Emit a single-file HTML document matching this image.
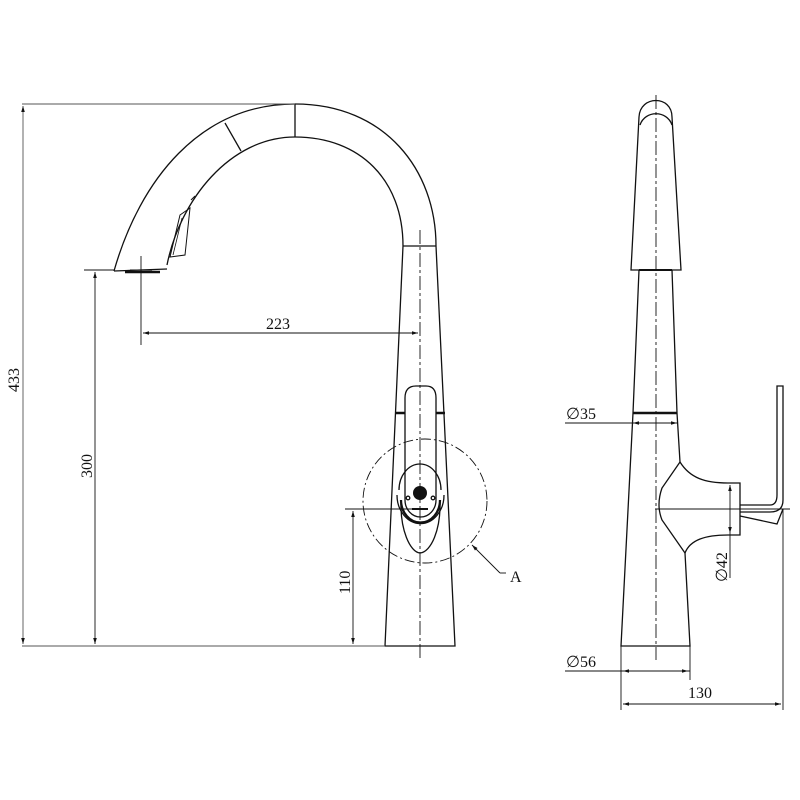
<!DOCTYPE html>
<html><head><style>
html,body{margin:0;padding:0;background:#fff;}
svg{display:block;}
text{font-family:"Liberation Serif",serif;font-size:16px;fill:#111;}
</style></head><body>
<svg width="800" height="800" viewBox="0 0 800 800" xmlns="http://www.w3.org/2000/svg">
<defs>
<marker id="ar" viewBox="0 0 10 10" refX="10" refY="5" markerWidth="9" markerHeight="6" orient="auto-start-reverse" markerUnits="userSpaceOnUse"><path d="M0,2 L10,5 L0,8 z" fill="#111"/></marker>
</defs>
<g fill="none" stroke="#111" stroke-width="1.3">
<path d="M114,271 C140,180 200,104 295,104 C385,104 436,170 436,246"/>
<path d="M167,265 C180,200 230,137 295,137 C360,137 403,180 403,246"/>
<path d="M114,271 L167,269"/>
<path d="M225,123 L241,151"/>
<path d="M295,104 L295,137"/>
<path d="M403,246 L436,246"/>
<path d="M170,257 L180,215 L190,208 L185,255 Z" stroke-width="1"/>
<path d="M173,255 L182,218" stroke-width="0.8"/>
<path d="M191,200 L195,196" stroke-width="1"/>
<path d="M125,272 L160,272" stroke-width="2.5"/>
<path d="M403,246 L385,646 L455,646 L436,246"/>
<path d="M405,413 L405,398 Q405,386 416,386 L426,386 Q436,386 436,398 L436,413"/>
<path d="M405,413 L405,500 A15.5,17 0 0 0 436,500 L436,413"/>
<path d="M396,413 L405,413 M436,413 L445,413" stroke-width="2.5"/>
<path d="M401,500 A19,22 0 0 0 440,500" stroke-width="2.3"/>
<path d="M397,495 A23,28 0 0 0 444,495" />
<path d="M401,500 C400,530 410,552 420,553 C431,552 441,530 440,500"/>
<path d="M399,490 A21,26 0 0 1 441,490"/>
<path d="M412,509 L428,509" stroke-width="2"/>
<circle cx="408" cy="498" r="1.8"/>
<circle cx="433" cy="498" r="1.8"/>
</g>
<circle cx="420" cy="493" r="7" fill="#111"/>
<g fill="none" stroke="#111" stroke-width="0.9">
<path d="M420,230 L420,660" stroke-dasharray="14,3,3,3"/>
<circle cx="425" cy="501" r="62" stroke-dasharray="10,3,2,3"/>
<path d="M500,573 L472,545" marker-end="url(#ar)"/>
<path d="M500,573 L506,573"/>
<path d="M22,104 L295,104 M22,646 L385,646" stroke="#555"/>
<path d="M23,106 L23,644" stroke="#555" marker-start="url(#ar)" marker-end="url(#ar)"/>
<path d="M84,270 L114,270"/>
<path d="M95,272 L95,644" marker-start="url(#ar)" marker-end="url(#ar)"/>
<path d="M141,256 L141,345 M130,270 L152,270"/>
<path d="M143,333 L418,333" marker-start="url(#ar)" marker-end="url(#ar)"/>
<path d="M345,509 L420,509"/>
<path d="M353,511 L353,644" marker-start="url(#ar)" marker-end="url(#ar)"/>
</g>
<text x="510" y="582" font-size="19">A</text>
<text x="266" y="329">223</text>
<text transform="translate(19,392) rotate(-90)">433</text>
<text transform="translate(92,478) rotate(-90)">300</text>
<text transform="translate(350,594) rotate(-90)">110</text>

<g fill="none" stroke="#111" stroke-width="1.3">
<path d="M631,270 L639,117 C640,95 672,95 672,117 L681,270 Z"/>
<path d="M640,125 C645,110 667,110 672,125"/>
<path d="M639,270 L633,413 L621,646 L690,646 L685,553"/>
<path d="M672,270 L677,413 L680,462"/>
<path d="M633,413 L677,413" stroke-width="2.5"/>
<path d="M639,270 L672,270" stroke-width="2"/>
<path d="M680,462 C690,478 705,483 728,483 L740,483 L740,535 L728,535 C705,535 690,540 685,553"/>
<path d="M680,462 L662,488 Q656,505 662,520 L685,553"/>
<path d="M740,505 L770,505 Q777,505 777,495 L777,386 L783,386 L783,500 Q783,512 770,512 L740,512"/>
<path d="M740,516 L777,524 L783,509"/>
</g>
<g fill="none" stroke="#111" stroke-width="0.9">
<path d="M656,95 L656,660" stroke-dasharray="14,3,3,3"/>
<path d="M655,509 L790,509"/>
<path d="M565,423 L677,423"/>
<path d="M641,423 L633,423" marker-end="url(#ar)"/>
<path d="M669,423 L677,423" marker-end="url(#ar)"/>
<path d="M730,485 L730,533" marker-start="url(#ar)" marker-end="url(#ar)"/>
<path d="M730,533 L730,578"/>
<path d="M621,646 L621,710 M690,646 L690,680 M783,509 L783,710"/>
<path d="M565,671 L690,671"/>
<path d="M623,671 L688,671" marker-start="url(#ar)" marker-end="url(#ar)"/>
<path d="M623,704 L781,704" marker-start="url(#ar)" marker-end="url(#ar)"/>
</g>
<text x="566" y="419">∅35</text>
<text x="566" y="667">∅56</text>
<text x="688" y="698">130</text>
<text transform="translate(727,582) rotate(-90)">∅42</text>
</svg>
</body></html>
